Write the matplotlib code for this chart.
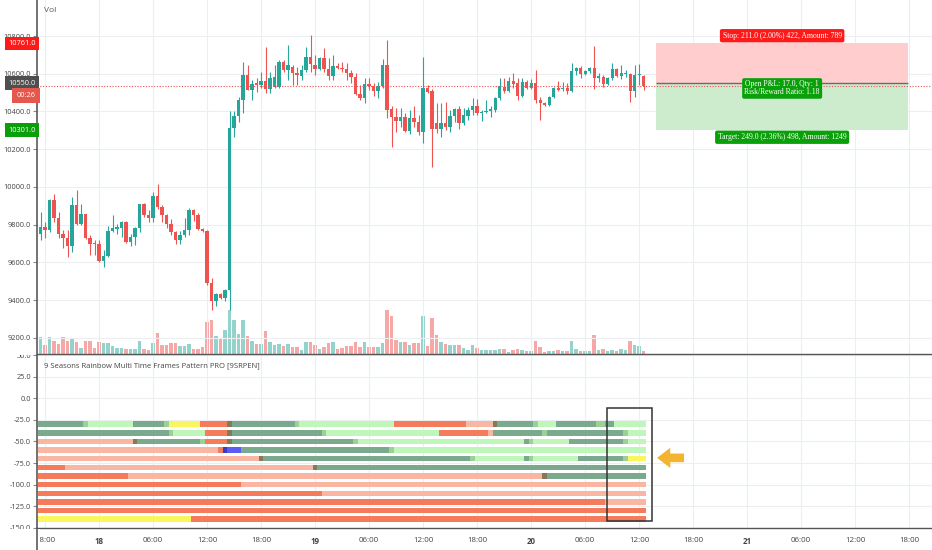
import matplotlib
matplotlib.use('Agg')
import matplotlib.pyplot as plt
from matplotlib.patches import Rectangle
from matplotlib.lines import Line2D
from matplotlib.transforms import blended_transform_factory, Bbox, TransformedBbox
import numpy as np

plt.rcParams['font.family'] = ['Open Sans', 'DejaVu Sans']

# ---------------- data (30-minute candles, first = 17th 17:30) ----------------
opens = [9748, 9789, 9771, 9930, 9833, 9748, 9730, 9688, 9903, 9806,
         9854, 9730, 9704, 9697, 9607, 9635, 9766, 9775, 9783, 9815,
         9709, 9736, 9783, 9912, 9850, 9833, 9952, 9894, 9850, 9806,
         9759, 9718, 9745, 9770, 9878, 9852, 9778, 9768, 9490, 9393,
         9432, 9410, 9455, 10314, 10376, 10461, 10593, 10514, 10549, 10540,
         10563, 10517, 10530, 10528, 10664, 10620, 10637, 10606, 10588, 10620,
         10690, 10646, 10623, 10681, 10623, 10588, 10641, 10632, 10623, 10606,
         10581, 10493, 10470, 10545, 10535, 10510, 10535, 10646, 10411, 10369,
         10351, 10369, 10298, 10363, 10346, 10293, 10523, 10510, 10337, 10307,
         10341, 10319, 10376, 10411, 10341, 10376, 10408, 10429, 10390, 10395,
         10403, 10408, 10469, 10531, 10510, 10563, 10552, 10482, 10558, 10523,
         10553, 10461, 10447, 10434, 10478, 10523, 10517, 10527, 10510, 10616,
         10628, 10598, 10616, 10629, 10576, 10584, 10545, 10575, 10623, 10588,
         10598, 10598, 10510, 10593, 10588]
highs = [9868, 9815, 9935, 9965, 9868, 9771, 9771, 9947, 9982, 9907,
         9858, 9745, 9718, 9718, 9665, 9794, 9850, 9806, 9818, 9818,
         9753, 9790, 9912, 9915, 9880, 9974, 10018, 9905, 9855, 9830,
         9768, 9768, 9834, 9890, 9885, 9860, 9785, 9770, 9515, 9440,
         9440, 9460, 10400, 10400, 10478, 10664, 10646, 10567, 10575, 10611,
         10740, 10611, 10646, 10672, 10673, 10752, 10646, 10637, 10646, 10743,
         10805, 10699, 10690, 10735, 10682, 10699, 10659, 10664, 10659, 10620,
         10602, 10540, 10575, 10575, 10549, 10558, 10676, 10779, 10429, 10416,
         10416, 10390, 10408, 10429, 10381, 10690, 10540, 10517, 10443, 10443,
         10452, 10408, 10416, 10429, 10416, 10425, 10469, 10464, 10408, 10460,
         10430, 10478, 10575, 10575, 10584, 10606, 10575, 10580, 10567, 10570,
         10620, 10478, 10452, 10482, 10531, 10563, 10558, 10549, 10655, 10634,
         10641, 10620, 10634, 10747, 10606, 10593, 10584, 10655, 10629, 10646,
         10620, 10602, 10646, 10652, 10593]
lows = [9718, 9727, 9762, 9815, 9727, 9674, 9630, 9656, 9797, 9797,
        9723, 9639, 9639, 9600, 9577, 9630, 9762, 9753, 9736, 9702,
        9685, 9690, 9762, 9840, 9815, 9812, 9885, 9815, 9780, 9745,
        9700, 9700, 9736, 9745, 9820, 9770, 9760, 9480, 9350, 9370,
        9405, 9395, 9350, 10266, 10346, 10390, 10513, 10461, 10505, 10523,
        10496, 10496, 10523, 10523, 10610, 10567, 10540, 10540, 10566, 10610,
        10611, 10593, 10620, 10610, 10567, 10567, 10623, 10611, 10567, 10549,
        10487, 10461, 10443, 10514, 10482, 10470, 10523, 10363, 10213, 10293,
        10319, 10293, 10280, 10319, 10275, 10235, 10496, 10107, 10284, 10263,
        10302, 10293, 10346, 10305, 10328, 10354, 10381, 10381, 10351, 10390,
        10372, 10399, 10460, 10496, 10505, 10523, 10460, 10478, 10517, 10517,
        10443, 10355, 10429, 10429, 10469, 10510, 10510, 10492, 10505, 10593,
        10576, 10593, 10602, 10517, 10558, 10531, 10540, 10567, 10584, 10570,
        10584, 10452, 10478, 10540, 10514]
closes = [9789, 9771, 9930, 9833, 9748, 9730, 9688, 9903, 9806, 9854,
          9730, 9700, 9695, 9607, 9635, 9766, 9780, 9787, 9815, 9709,
          9736, 9783, 9912, 9850, 9833, 9952, 9894, 9850, 9806, 9759,
          9718, 9745, 9770, 9878, 9852, 9778, 9768, 9490, 9393, 9432,
          9410, 9455, 10314, 10376, 10461, 10593, 10513, 10545, 10540, 10563,
          10517, 10576, 10583, 10664, 10620, 10646, 10602, 10593, 10620, 10690,
          10652, 10623, 10681, 10623, 10588, 10641, 10629, 10623, 10602, 10581,
          10493, 10470, 10545, 10535, 10510, 10535, 10646, 10408, 10369, 10351,
          10369, 10298, 10363, 10346, 10293, 10523, 10505, 10307, 10307, 10337,
          10319, 10376, 10411, 10341, 10381, 10408, 10429, 10390, 10399, 10403,
          10413, 10469, 10534, 10510, 10563, 10545, 10482, 10558, 10523, 10553,
          10461, 10443, 10434, 10478, 10523, 10514, 10527, 10510, 10616, 10628,
          10598, 10616, 10629, 10576, 10588, 10545, 10575, 10623, 10588, 10602,
          10606, 10510, 10593, 10599, 10533]
volumes = [50, 27, 50, 38, 28, 51, 38, 45, 34, 18,
           37, 37, 18, 34, 32, 32, 22, 17, 17, 14,
           15, 15, 39, 13, 12, 33, 63, 26, 26, 32,
           32, 22, 22, 30, 14, 14, 20, 94, 100, 54,
           48, 72, 130, 102, 58, 102, 52, 38, 28, 28,
           67, 36, 27, 28, 22, 28, 19, 19, 10, 36,
           36, 27, 13, 19, 32, 34, 13, 17, 24, 24,
           36, 21, 36, 20, 19, 19, 32, 130, 112, 42,
           36, 35, 25, 32, 32, 114, 24, 108, 55, 36,
           30, 26, 26, 25, 17, 11, 26, 16, 11, 11,
           12, 11, 15, 14, 5, 10, 14, 10, 9, 9,
           39, 20, 5, 7, 7, 10, 7, 7, 39, 14,
           9, 9, 9, 55, 10, 14, 7, 10, 7, 15,
           10, 37, 27, 22, 7]

# time axis labels (bar index of each label)
tick_bars = [1, 13, 25, 37, 49, 61, 73, 85, 97, 109, 121, 133, 145, 157, 169, 181, 193]
tick_labels = ['18:00', '18', '06:00', '12:00', '18:00', '19', '06:00', '12:00', '18:00',
               '20', '06:00', '12:00', '18:00', '21', '06:00', '12:00', '18:00']
day_labels = ['18', '19', '20', '21']

price_ticks = [9200, 9400, 9600, 9800, 10000, 10200, 10400, 10600, 10800]
osc_ticks = [50, 25, 0, -25, -50, -75, -100, -125, -150]

# position tool (short)
entry_price = 10550
stop_price = 10761
target_price = 10301
last_price = 10533
countdown = '00:26'
pos_start_bar = 136.8
pos_end_bar = 192.8
stop_text = 'Stop: 211.0 (2.00%) 422, Amount: 789'
pnl_text = 'Open P&L: 17.0, Qty: 1\nRisk/Reward Ratio: 1.18'
target_text = 'Target: 249.0 (2.36%) 498, Amount: 1249'

# rainbow indicator rows: (start bar, state)
row_levels = [-30, -40, -50, -60, -70, -80, -90, -100, -110, -120, -130, -140]
row_segments = [
    [(0, 'DG'), (10, 'MG'), (11, 'LG'), (21, 'DG'), (28, 'MG'), (29, 'Y'), (36, 'R'), (42, 'BR'),
     (43, 'DG'), (57, 'MG'), (58, 'LG'), (79, 'R'), (95, 'S'), (101, 'BR'), (102, 'DG'), (110, 'MG'),
     (111, 'LG'), (115, 'DG'), (124, 'MG'), (126, 'DG'), (128, 'LG')],
    [(0, 'DG'), (29, 'MG'), (30, 'LG'), (37, 'R'), (42, 'BR'), (43, 'DG'), (63, 'MG'), (64, 'LG'),
     (89, 'R'), (100, 'S'), (101, 'DG'), (112, 'MG'), (113, 'DG'), (130, 'MG'), (131, 'LG')],
    [(0, 'S'), (21, 'BR'), (22, 'DG'), (36, 'MG'), (37, 'R'), (42, 'BR'), (43, 'DG'), (70, 'MG'),
     (71, 'LG'), (108, 'DG'), (109, 'MG'), (110, 'LG'), (118, 'DG'), (130, 'MG'), (131, 'LG')],
    [(0, 'S'), (40, 'R'), (41, 'DB'), (42, 'B'), (45, 'DG'), (78, 'MG'), (79, 'LG')],
    [(0, 'S'), (49, 'BR'), (50, 'DG'), (96, 'MG'), (97, 'LG'), (108, 'DG'), (109, 'MG'), (110, 'LG'),
     (120, 'DG'), (130, 'MG'), (131, 'Y')],
    [(0, 'R'), (6, 'S'), (61, 'BR'), (62, 'DG')],
    [(0, 'R'), (20, 'S'), (112, 'BR'), (113, 'DG')],
    [(0, 'R'), (45, 'S')],
    [(0, 'R'), (63, 'S')],
    [(0, 'R'), (126, 'S')],
    [(0, 'R')],
    [(0, 'Y'), (34, 'R')],
]
highlight_bars = (125.9, 135.9)
highlight_levels = (-142.2, -11.2)
arrow_level = -69
arrow_bars = (137.0, 143.0)

state_colors = {'DG': '#7ba98d', 'MG': '#9bd197', 'LG': '#bff6b9', 'Y': '#f9f65e',
                'R': '#f47b5c', 'S': '#f9b6a3', 'B': '#5b5cf2', 'DB': '#3b3bc4', 'BR': '#86795a'}

# ---------------- figure ----------------
W, H = 932, 550
fig = plt.figure(figsize=(W / 100, H / 100), dpi=100)


def rect(l, t, r, b):
    return [l / W, 1 - b / H, (r - l) / W, (b - t) / H]


ax = fig.add_axes(rect(37, 0, 932, 353.5))
ax2 = fig.add_axes(rect(37, 354.5, 932, 528), sharex=ax)
axv = ax.twinx()
ax.set_zorder(2)
ax.patch.set_visible(False)
axv.set_zorder(1)

n = len(closes)
x = np.arange(n)
o = np.array(opens, float)
c = np.array(closes, float)
h = np.array(highs, float)
lo = np.array(lows, float)
up = c >= o
ccol = np.where(up, '#26a69a', '#ef5350')
vcol = np.where(up, '#93d3cb', '#f6a8a7')

grid_c = '#eceef2'
for tb in tick_bars:
    ax.axvline(tb, color=grid_c, lw=0.8, zorder=0)
    ax2.axvline(tb, color=grid_c, lw=0.8, zorder=0)
for p in price_ticks:
    ax.axhline(p, color=grid_c, lw=0.8, zorder=0)
for v in osc_ticks:
    ax2.axhline(v, color=grid_c, lw=0.8, zorder=0)

# volume
axv.bar(x, volumes, width=0.75, color=vcol, linewidth=0)
axv.set_ylim(0, 353.5 * 3)
axv.axis('off')

# candles
ax.vlines(x, lo, h, colors=ccol, linewidth=0.8, zorder=3)
ax.bar(x, np.maximum(np.abs(c - o), 2.5), bottom=np.minimum(o, c), width=0.68,
       color=ccol, linewidth=0, zorder=4)

ax.axhline(last_price, color='#ef5350', lw=0.8, ls=(0, (1, 1.5)), zorder=5)

# position tool
ax.add_patch(Rectangle((pos_start_bar, entry_price), pos_end_bar - pos_start_bar,
                       stop_price - entry_price, fc='#ffcdcd', ec='none', zorder=1))
ax.add_patch(Rectangle((pos_start_bar, target_price), pos_end_bar - pos_start_bar,
                       entry_price - target_price, fc='#cdeccd', ec='none', zorder=1))
ax.hlines(entry_price, pos_start_bar, pos_end_bar, color='#6a6a6a', lw=1.0, zorder=2)
center = (pos_start_bar + pos_end_bar) / 2
lab_kw = dict(textcoords='offset points', ha='center', va='center', fontsize=5.5,
              family=['Liberation Serif', 'DejaVu Serif'], color='white', zorder=6)
ax.annotate(stop_text, xy=(center, stop_price), xytext=(0, 5.5),
            bbox=dict(boxstyle='round,pad=0.35,rounding_size=0.25', fc='#ff1a1a', ec='none'), **lab_kw)
ax.annotate(pnl_text, xy=(center, entry_price), xytext=(0, -3.8), linespacing=1.0,
            bbox=dict(boxstyle='round,pad=0.3,rounding_size=0.25', fc='#0aa00a', ec='none'), **lab_kw)
ax.annotate(target_text, xy=(center, target_price), xytext=(0, -5.1),
            bbox=dict(boxstyle='round,pad=0.35,rounding_size=0.25', fc='#0aa00a', ec='none'), **lab_kw)

# axes cosmetics (price)
ax.set_xlim(-0.78, 198.1)
ax.set_ylim(9117.3, 10990.8)
ax.set_yticks(price_ticks)
ax.set_yticklabels([f'{p:.1f}' for p in price_ticks])
ax.tick_params(axis='y', direction='out', length=3, width=0.8, color='#8a8a8a',
               labelsize=5.3, labelcolor='#444444', pad=1.2)
ax.tick_params(axis='x', length=0, labelbottom=False)
for s in ['top', 'right']:
    ax.spines[s].set_visible(False)
ax.spines['left'].set_color('#5a5a5a')
ax.spines['left'].set_linewidth(1.2)
ax.spines['bottom'].set_color('#555555')
ax.spines['bottom'].set_linewidth(1.0)

# price scale tags
trans = blended_transform_factory(fig.transFigure, ax.transData)
tags = [(stop_price, f'{stop_price:.1f}', '#ff1a1a'), (entry_price, f'{entry_price:.1f}', '#4f4f4f'),
        (target_price, f'{target_price:.1f}', '#0b9e0b')]
for val, txt, col in tags:
    ax.text(35.5 / W, val, txt, transform=trans, ha='right', va='center', color='white', fontsize=5.3,
            bbox=dict(boxstyle='square,pad=0.45', fc=col, ec='none'), zorder=7, clip_on=False)
ax.annotate(countdown, xy=(35.5 / W, entry_price), xycoords=trans, xytext=(0, -8.8),
            textcoords='offset points', ha='right', va='center', color='white', fontsize=5.3,
            bbox=dict(boxstyle='square,pad=0.55', fc='#e4584d', ec='none'), zorder=7, annotation_clip=False)

# rainbow panel
for lvl, segs in zip(row_levels, row_segments):
    starts = [s for s, _ in segs]
    ends = starts[1:] + [n]
    for (s, st), e in zip(segs, ends):
        ax2.barh(lvl, e - s, left=s - 0.5, height=6.3, color=state_colors[st], linewidth=0, zorder=2)

ax2.add_patch(Rectangle((highlight_bars[0], highlight_levels[0]), highlight_bars[1] - highlight_bars[0],
                        highlight_levels[1] - highlight_levels[0], fill=False, ec='#333333', lw=1.1,
                        zorder=4, clip_on=False))
ax2.annotate('', xy=(arrow_bars[0], arrow_level), xytext=(arrow_bars[1], arrow_level),
             arrowprops=dict(arrowstyle='simple,head_length=0.95,head_width=1.45,tail_width=0.62',
                             mutation_scale=10, color='#f3b52f', shrinkA=0, shrinkB=0, lw=0),
             annotation_clip=False)

ax2.set_ylim(-150.3, 50.8)
ax2.set_yticks(osc_ticks)
ax2.set_yticklabels([f'{v:.1f}' for v in osc_ticks])
ax2.tick_params(axis='y', direction='out', length=3, width=0.8, color='#8a8a8a',
                labelsize=5.3, labelcolor='#444444', pad=1.2)
ax2.set_xticks(tick_bars)
ax2.set_xticklabels(tick_labels)
ax2.tick_params(axis='x', length=0, labelsize=5.7, labelcolor='#444444', pad=6.5)
for lbl in ax2.get_xticklabels():
    if lbl.get_text() in day_labels:
        lbl.set_fontweight('bold')
for s in ['top', 'right']:
    ax2.spines[s].set_visible(False)
ax2.spines['left'].set_color('#5a5a5a')
ax2.spines['left'].set_linewidth(1.2)
ax2.spines['bottom'].set_color('#555555')
ax2.spines['bottom'].set_linewidth(1.0)

top_lbl = ax2.get_yticklabels()[0]
top_lbl.set_clip_on(True)
top_lbl.set_clip_box(TransformedBbox(Bbox([[0, 0], [1, 1 - 354.5 / H]]), fig.transFigure))

# panel titles
fig.text(44 / W, 1 - 11 / H, 'Vol', fontsize=6, color='#555555', va='center')
fig.text(44 / W, 1 - 366 / H, '9 Seasons Rainbow Multi Time Frames Pattern PRO [9SRPEN]',
         fontsize=5.5, color='#444444', va='center')

# price-scale column below the time axis (hides the start of the first time label)
fig.add_artist(Rectangle((0, 0), 39.5 / W, 21.5 / H, transform=fig.transFigure,
                         fc='white', ec='none', zorder=10))
fig.add_artist(Line2D([37 / W, 37 / W], [0, 22 / H], transform=fig.transFigure,
                      color='#5a5a5a', lw=1.2, zorder=11))

fig.savefig('out.png', dpi=100, facecolor='white')
